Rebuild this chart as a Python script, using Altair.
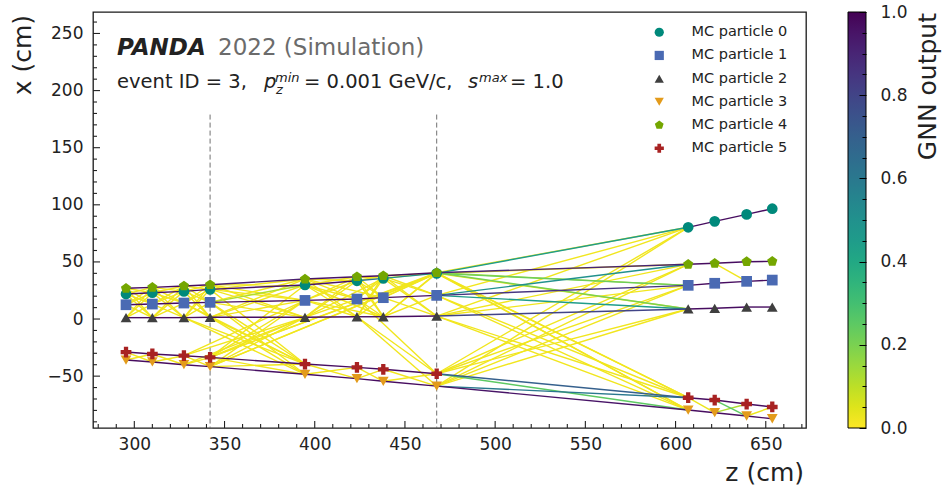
import altair as alt
import pandas as pd

# ---------------- data ----------------
Z_LAYERS = [295.4, 310.0, 327.5, 342.0, 394.6, 423.4, 438.0, 467.6, 607.0, 621.7, 639.4, 653.6]

X_P0 = [21.9, 23.0, 24.2, 26.0, 29.8, 33.5, 35.6, 40.0, 80.3, 85.5, 91.6, 96.6]
X_P1 = [12.5, 13.1, 14.0, 14.6, 16.3, 17.5, 18.7, 20.7, 29.5, 31.3, 33.0, 34.1]
X_P2 = [1.2, 1.2, 1.2, 1.5, 1.5, 2.0, 2.0, 2.6, 8.8, 9.4, 10.5, 10.5]
X_P3 = [-35.9, -37.6, -40.0, -41.7, -48.4, -52.2, -54.5, -58.7, -79.7, -82.0, -84.9, -87.3]
X_P4 = [26.9, 27.7, 28.9, 30.0, 35.0, 37.0, 37.9, 40.5, 47.9, 48.8, 50.2, 50.5]
X_P5 = [-28.9, -30.6, -32.1, -33.6, -39.4, -42.3, -44.0, -47.9, -68.9, -70.9, -74.4, -77.0]
HITS = [X_P0, X_P1, X_P2, X_P3, X_P4, X_P5]

LABELS = ["MC particle 0", "MC particle 1", "MC particle 2",
          "MC particle 3", "MC particle 4", "MC particle 5"]
COLORS = ["#00897b", "#4a6ab3", "#3f3f3f", "#e39b1b", "#74a600", "#a82222"]
PENTAGON = "M0,-1L0.951,-0.309L0.588,0.809L-0.588,0.809L-0.951,-0.309Z"
SHAPES = ["circle", "square", "triangle-up", "triangle-down", PENTAGON, "cross"]

# GNN scores of the true segments (layer i -> i+1) per particle
TRUE_SCORES = [
    [0.97, 0.97, 0.96, 0.95, 0.95, 0.60, 0.50, 0.45, 0.97, 0.97, 0.97],
    [0.97, 0.97, 0.97, 0.96, 0.97, 0.97, 0.97, 0.85, 0.97, 0.97, 0.97],
    [0.97, 0.97, 0.97, 0.96, 0.97, 0.97, 0.97, 0.80, 0.97, 0.97, 0.97],
    [0.97, 0.97, 0.97, 0.96, 0.97, 0.97, 0.97, 0.95, 0.97, 0.97, 0.97],
    [0.97, 0.97, 0.97, 0.92, 0.95, 0.97, 0.97, 0.90, 0.97, 0.97, 0.97],
    [0.97, 0.97, 0.97, 0.96, 0.97, 0.97, 0.97, 0.70, 0.97, 0.97, 0.97],
]

# fake edges between hits of different particles inside a cluster
CLUSTER_PAIRS = [(4, 0), (4, 1), (4, 2), (0, 4), (0, 1), (0, 2), (1, 4), (1, 0),
                 (1, 2), (2, 4), (2, 0), (2, 1), (5, 3), (3, 5)]
CLUSTER_LAYER_PAIRS = [(0, 1), (1, 2), (2, 3), (3, 4), (4, 5), (5, 6), (6, 7), (7, 8)]
FAKE_SCORE = 0.02

# other fake edges: (layer_from, layer_to, particle_from, particle_to, score)
EXTRA_EDGES = [
    (2, 4, 2, 5, 0.02), (2, 4, 2, 3, 0.02), (2, 4, 1, 5, 0.02),
    (2, 4, 5, 2, 0.02), (2, 4, 3, 2, 0.02), (2, 4, 5, 1, 0.02),
    (3, 4, 2, 5, 0.02), (3, 4, 2, 3, 0.02), (3, 4, 1, 5, 0.02), (3, 4, 1, 3, 0.02),
    (3, 4, 0, 5, 0.02), (3, 4, 5, 2, 0.02), (3, 4, 5, 1, 0.02), (3, 4, 5, 0, 0.02),
    (3, 4, 3, 2, 0.02), (3, 4, 3, 1, 0.02),
    (3, 7, 5, 0, 0.02), (3, 7, 3, 4, 0.02), (3, 7, 5, 4, 0.02), (3, 7, 3, 0, 0.02),
    (4, 6, 4, 1, 0.02), (4, 6, 2, 0, 0.02), (4, 6, 1, 2, 0.02), (4, 6, 0, 2, 0.02),
    (5, 7, 2, 5, 0.02), (5, 7, 2, 3, 0.02), (5, 7, 1, 5, 0.02),
    (7, 8, 4, 5, 0.02), (7, 8, 4, 3, 0.02), (7, 8, 0, 5, 0.02), (7, 8, 0, 3, 0.02),
    (7, 8, 1, 5, 0.02), (7, 8, 1, 3, 0.02), (7, 8, 2, 5, 0.02), (7, 8, 2, 3, 0.02),
    (7, 8, 5, 0, 0.02), (7, 8, 5, 4, 0.02), (7, 8, 5, 1, 0.02), (7, 8, 5, 2, 0.02),
    (7, 8, 3, 0, 0.02), (7, 8, 3, 4, 0.02), (7, 8, 3, 1, 0.02), (7, 8, 3, 2, 0.02),
    (8, 9, 5, 3, 0.03),
    (9, 10, 5, 3, 0.25), (9, 10, 3, 5, 0.12), (9, 10, 4, 1, 0.02),
    (10, 11, 3, 5, 0.03),
]
# scores of cluster fake edges that are not yellow
SCORE_OVERRIDES = {
    (7, 8, 1, 2): 0.45, (7, 8, 0, 1): 0.22, (7, 8, 1, 4): 0.50, (7, 8, 4, 1): 0.15,
    (7, 8, 3, 5): 0.60, (7, 8, 5, 3): 0.25, (7, 8, 4, 2): 0.20, (3, 4, 1, 0): 0.12,
}

DASH_Z = [342.0, 467.6]
DASH_TOP = 179.0

X_MAJOR = [300, 350, 400, 450, 500, 550, 600, 650]
X_MINOR = [280, 290, 310, 320, 330, 340, 360, 370, 380, 390, 410, 420, 430, 440,
           460, 470, 480, 490, 510, 520, 530, 540, 560, 570, 580, 590, 610, 620,
           630, 640, 660, 670]
Y_MAJOR = [-50, 0, 50, 100, 150, 200, 250]
Y_MINOR = [-90, -80, -70, -60, -40, -30, -20, -10, 10, 20, 30, 40, 60, 70, 80, 90,
           110, 120, 130, 140, 160, 170, 180, 190, 210, 220, 230, 240, 260]
CB_VALUES = [0.0, 0.2, 0.4, 0.6, 0.8, 1.0]
CB_MINOR = [0.05, 0.1, 0.15, 0.25, 0.3, 0.35, 0.45, 0.5, 0.55, 0.65, 0.7, 0.75,
            0.85, 0.9, 0.95]

# ---------------- tables ----------------
hit_rows = []
for p, xs in enumerate(HITS):
    for li, xv in enumerate(xs):
        hit_rows.append({"z": Z_LAYERS[li], "x": xv, "label": LABELS[p]})
hits = pd.DataFrame(hit_rows)

edge_rows = []
for p, scores in enumerate(TRUE_SCORES):
    for li, s in enumerate(scores):
        edge_rows.append({"z": Z_LAYERS[li], "x": HITS[p][li],
                          "z2": Z_LAYERS[li + 1], "x2": HITS[p][li + 1], "score": s})
for la, lb in CLUSTER_LAYER_PAIRS:
    for pa, pb in CLUSTER_PAIRS:
        s = SCORE_OVERRIDES.get((la, lb, pa, pb), FAKE_SCORE)
        edge_rows.append({"z": Z_LAYERS[la], "x": HITS[pa][la],
                          "z2": Z_LAYERS[lb], "x2": HITS[pb][lb], "score": s})
for la, lb, pa, pb, s in EXTRA_EDGES:
    edge_rows.append({"z": Z_LAYERS[la], "x": HITS[pa][la],
                      "z2": Z_LAYERS[lb], "x2": HITS[pb][lb], "score": s})
edges = pd.DataFrame(edge_rows).sort_values("score", kind="stable").reset_index(drop=True)

# ---------------- chart ----------------
W, H = 713, 416
FONT = "DejaVu Sans"
INK = "#222222"
CB_X, CB_T = 755, 18          # colorbar left edge and thickness (plot coords)
xs_ = alt.Scale(domain=[277.1, 672.3], nice=False, zero=False)
ys_ = alt.Scale(domain=[-95.4, 268.8], nice=False, zero=False)
cbs_ = alt.Scale(domain=[0, 1], nice=False, zero=False)

x_axis = alt.Axis(values=X_MAJOR, ticks=False, tickSize=0, domain=False, grid=False,
                  labelFontSize=17, labelFont=FONT, labelColor=INK, labelPadding=8,
                  title=None)
y_axis = alt.Axis(values=Y_MAJOR, ticks=False, tickSize=0, domain=False, grid=False,
                  labelFontSize=17, labelFont=FONT, labelColor=INK, labelPadding=10,
                  title=None, orient="left")

dash = alt.Chart(pd.DataFrame({"z": DASH_Z, "top": [DASH_TOP] * len(DASH_Z)})).mark_rule(
    color="#707070", strokeWidth=1, strokeDash=[5, 3]
).encode(
    x=alt.X("z:Q", scale=xs_, axis=x_axis),
    y=alt.Y("top:Q", scale=ys_, axis=y_axis),
    y2=alt.value(H),
)

edge_layer = alt.Chart(edges).mark_rule(strokeWidth=1.4).encode(
    x=alt.X("z:Q", scale=xs_, axis=x_axis),
    y=alt.Y("x:Q", scale=ys_, axis=y_axis),
    x2="z2:Q",
    y2="x2:Q",
    stroke=alt.Stroke(
        "score:Q",
        scale=alt.Scale(scheme="viridis", reverse=True, domain=[0, 1]),
        legend=alt.Legend(
            title=None, orient="none", legendX=CB_X, legendY=0, direction="vertical",
            gradientLength=H, gradientThickness=CB_T, labelOpacity=0, values=CB_VALUES,
            gradientStrokeColor="#000000", gradientStrokeWidth=1,
        ),
    ),
)

pt_legend = alt.Legend(
    title=None, orient="none", legendX=559, legendY=13, labelFontSize=14.5,
    labelFont=FONT, labelColor=INK, symbolSize=85, rowPadding=8.2, labelOffset=25,
    symbolStrokeWidth=0,
)
points = alt.Chart(hits).mark_point(filled=True, size=115, opacity=1, strokeWidth=0).encode(
    x=alt.X("z:Q", scale=xs_, axis=x_axis),
    y=alt.Y("x:Q", scale=ys_, axis=y_axis),
    fill=alt.Fill("label:N", scale=alt.Scale(domain=LABELS, range=COLORS), legend=pt_legend),
    shape=alt.Shape("label:N", scale=alt.Scale(domain=LABELS, range=SHAPES), legend=pt_legend),
)


def xticks(vals, length):
    return alt.Chart(pd.DataFrame({"z": vals})).mark_rule(color=INK, strokeWidth=1.1).encode(
        x=alt.X("z:Q", scale=xs_, axis=x_axis), y=alt.value(H), y2=alt.value(H - length))


def yticks(vals, length):
    return alt.Chart(pd.DataFrame({"x": vals})).mark_rule(color=INK, strokeWidth=1.1).encode(
        y=alt.Y("x:Q", scale=ys_, axis=y_axis), x=alt.value(0), x2=alt.value(length))


def txt(s, x, y, size, **kw):
    return alt.Chart(pd.DataFrame({"t": [s]})).mark_text(
        font=FONT, fontSize=size, align=kw.pop("align", "left"),
        baseline=kw.pop("baseline", "alphabetic"), color=kw.pop("color", INK), **kw
    ).encode(text="t:N", x=alt.value(x), y=alt.value(y))


texts = [
    txt("PANDA", 24, 43, 23, fontWeight="bold", fontStyle="italic"),
    txt("2022 (Simulation)", 125, 43, 23, color="#6b6b6b"),
    txt("event ID = 3,", 24, 76, 19.5),
    txt("p", 171, 76, 19.5, fontStyle="italic"),
    txt("min", 182, 69.5, 13, fontStyle="italic"),
    txt("z", 183, 81.5, 13, fontStyle="italic"),
    txt("= 0.001 GeV/c,", 211, 76, 19.5),
    txt("s", 375, 76, 19.5, fontStyle="italic"),
    txt("max", 386, 69.5, 13, fontStyle="italic"),
    txt("= 1.0", 417, 76, 19.5),
    txt("z (cm)", 711, 469, 25, align="right"),
    txt("x (cm)", -62, 3, 25, align="right", angle=270),
    txt("GNN output", 843, 1, 25, align="right", angle=270),
]

main = alt.layer(
    dash, edge_layer, points,
    xticks(X_MAJOR, 7), xticks(X_MINOR, 4), yticks(Y_MAJOR, 7), yticks(Y_MINOR, 4),
    *texts,
).resolve_scale(stroke="independent")


# colorbar ticks (inward, on the right edge of the bar) and labels, as axes of
# an extra [0, 1] scale placed on the colorbar
def cb_axis_layer(vals, axis):
    return alt.Chart(pd.DataFrame({"v": vals})).mark_point(opacity=0).encode(
        y=alt.Y("v:Q", scale=cbs_, axis=axis), x=alt.value(CB_X))


cb_major = cb_axis_layer(CB_VALUES, alt.Axis(
    orient="left", offset=-(CB_X + CB_T), values=CB_VALUES, labels=False, domain=False,
    grid=False, ticks=True, tickSize=7, tickColor="#000000", tickWidth=1, title=None,
    zindex=2))
cb_minor = cb_axis_layer(CB_MINOR, alt.Axis(
    orient="left", offset=-(CB_X + CB_T), values=CB_MINOR, labels=False, domain=False,
    grid=False, ticks=True, tickSize=4, tickColor="#000000", tickWidth=1, title=None,
    zindex=2))
cb_labels = cb_axis_layer(CB_VALUES, alt.Axis(
    orient="right", offset=CB_X + CB_T - W, values=CB_VALUES, format=".1f", labels=True,
    domain=False, grid=False, ticks=False, tickSize=0, labelPadding=14, labelFontSize=17,
    labelFont=FONT, labelColor=INK, labelBaseline="middle", labelFlush=False,
    labelOverlap=False, title=None, zindex=2))

chart = alt.layer(main, cb_major, cb_minor, cb_labels).resolve_scale(
    y="independent"
).properties(
    width=W, height=H,
    padding={"left": 93, "top": 12, "right": 139, "bottom": 65},
    autosize=alt.AutoSizeParams(type="none"),
    background="white",
).configure_view(
    stroke="#1a1a1a", strokeWidth=1.3
)

chart.save("out.html", embed_options={"renderer": "svg", "actions": False})
